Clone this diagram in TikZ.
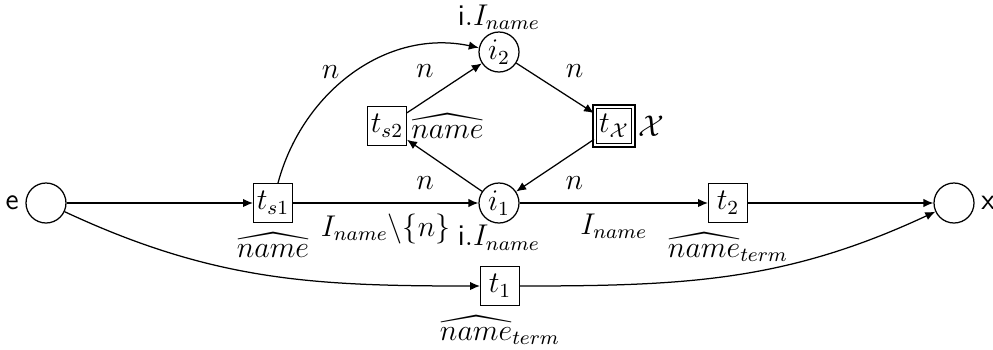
\documentclass[tikz,border=0pt,12pt]{standalone}
\usepackage{amsmath,amssymb}
\usepackage{tikz}
\usetikzlibrary{arrows.meta,positioning}
\tikzset{
  place/.style={draw,circle,minimum size=16pt,inner sep=0pt,line width=0.5pt},
  transition/.style={draw,rectangle,minimum size=15.5pt,inner sep=1pt,line width=0.5pt},
  silent/.style={transition,double,double distance=0.8pt},
  arc/.style={-{Latex[length=4pt,width=3.4pt]},line width=0.5pt},
  lbl/.style={inner sep=0.5pt},
}
\begin{document}
\begin{tikzpicture}[x=0.4pt,y=0.4pt]
  \useasboundingbox (0,0) rectangle (993,349);
  % places
  \node[place,label={[lbl,label distance=2pt]left:\textsf{e}}] (e) at (46,146) {};
  \node[place,label={[lbl,label distance=2pt]right:\textsf{x}}] (x) at (954,146) {};
  \node[place,label={[lbl]below:\textsf{i}.$I_{name}$}] (i1) at (499,146) {$i_1$};
  \node[place,label={[lbl]above:\textsf{i}.$I_{name}$}] (i2) at (499,297) {$i_2$};
  % transitions
  \node[transition,label={[lbl,label distance=3pt]below:$\widehat{name}$}] (ts1) at (273,146) {$t_{s1}$};
  \node[transition,label={[lbl,label distance=1pt]right:$\widehat{name}$}] (ts2) at (387,223) {$t_{s2}$};
  \node[silent,label={[lbl,label distance=1pt]right:$\mathcal{X}$}] (tx) at (614,223) {$t_{\mathcal{X}}$};
  \node[transition,label={[lbl,label distance=3pt]below:$\widehat{name}_{term}$}] (t2) at (728,146) {$t_2$};
  \node[transition,label={[lbl,label distance=3pt]below:$\widehat{name}_{term}$}] (t1) at (500,63) {$t_1$};
  % arcs
  \draw[arc] (e) -- (ts1);
  \draw[arc] (ts1) -- node[below] {$I_{name}\backslash\{n\}$} (i1);
  \draw[arc] (i1) -- node[below] {$I_{name}$} (t2);
  \draw[arc] (t2) -- (x);
  \draw[arc] (e) to[out=-25,in=180] (t1);
  \draw[arc] (t1) to[out=0,in=-155] (x);
  \draw[arc] (ts1.north) ++(5,0) to[out=75,in=168] node[pos=0.45,above left,inner sep=1pt] {$n$} (i2);
  \draw[arc] (i1) -- node[below left] {$n$} (ts2);
  \draw[arc] (ts2) -- node[above left] {$n$} (i2);
  \draw[arc] (i2) -- node[above right] {$n$} (tx);
  \draw[arc] (tx) -- node[below right] {$n$} (i1);
\end{tikzpicture}
\end{document}
